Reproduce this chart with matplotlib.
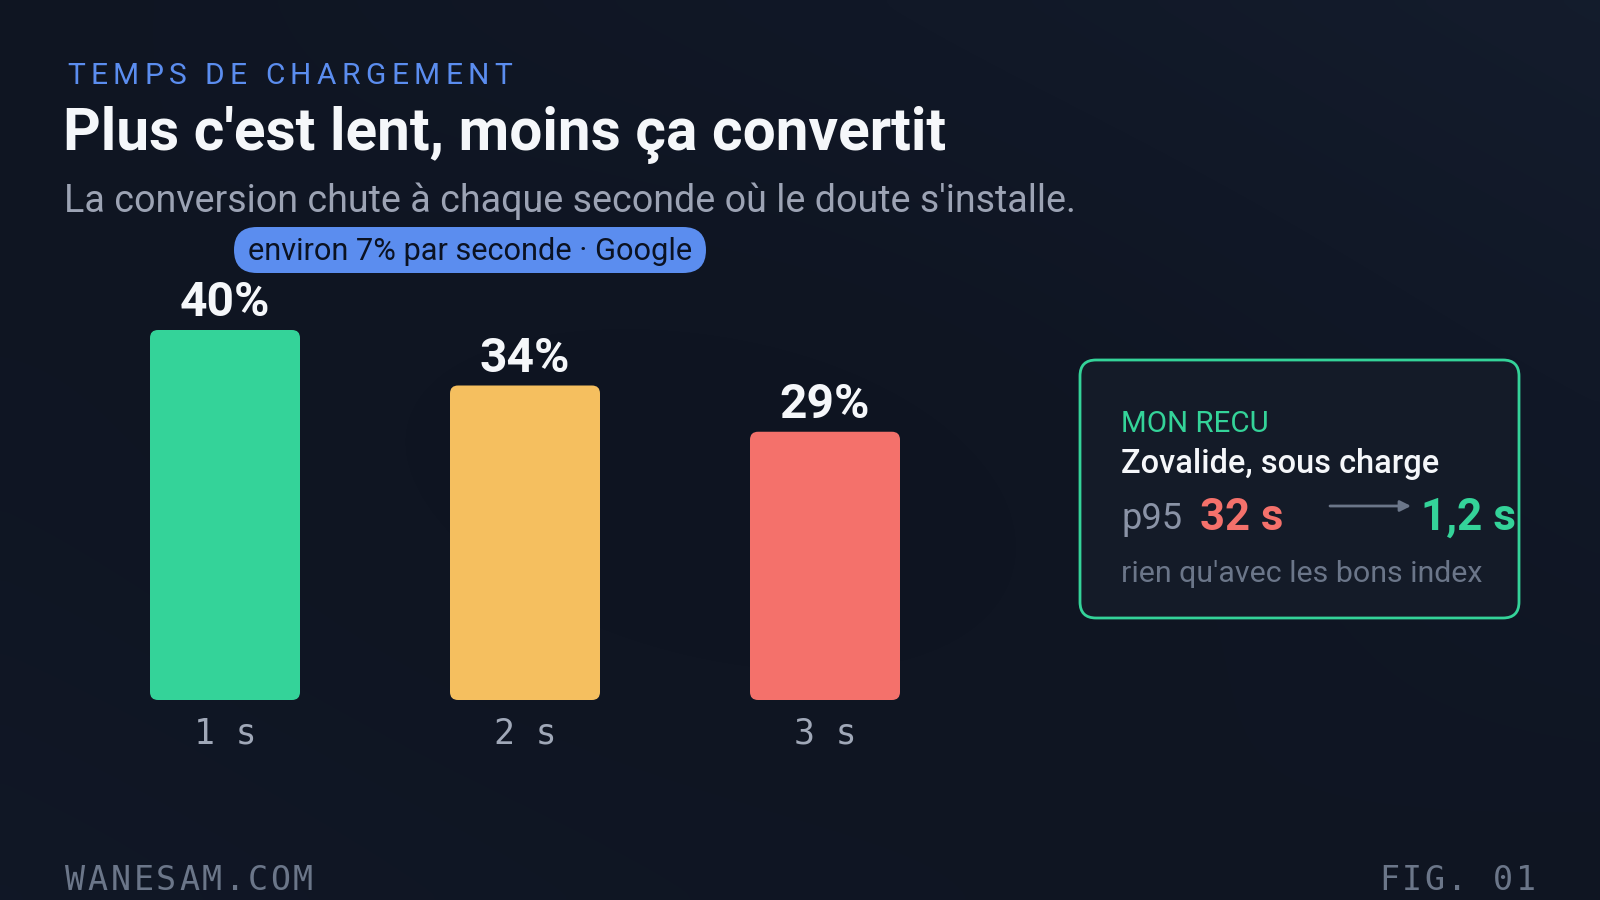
import numpy as np
import matplotlib
matplotlib.use("Agg")
import matplotlib.pyplot as plt
from matplotlib.patches import FancyBboxPatch, FancyArrowPatch
from matplotlib.colors import LinearSegmentedColormap

# ---------------- data ----------------
categories = ["1 s", "2 s", "3 s"]
conversion = [40, 34, 29]
value_labels = ["40%", "34%", "29%"]
bar_colors = ["#34d399", "#f5bf5f", "#f4716b"]

kicker = "TEMPS DE CHARGEMENT"
title = "Plus c'est lent, moins ça convertit"
subtitle = "La conversion chute à chaque seconde où le doute s'installe."
pill_text = "environ 7% par seconde · Google"
card_kicker = "MON RECU"
card_title = "Zovalide, sous charge"
card_metric = "p95"
card_before = "32 s"
card_after = "1,2 s"
card_note = "rien qu'avec les bons index"
footer_left = "WANESAM.COM"
footer_right = "FIG. 01"

SANS = "Roboto"
MONO = "DejaVu Sans Mono"
BG = "#0f1522"

W, H = 1600, 900
fig = plt.figure(figsize=(16, 9), dpi=100, facecolor=BG)

# background gradient
bg = fig.add_axes([0, 0, 1, 1], zorder=-10)
yy, xx = np.mgrid[0:1:90j, 0:1:160j]
g = 0.55 * xx * (1 - yy) + 0.35 * (1 - xx) * yy * 0.6 + 0.25 * np.exp(-((xx - 0.5) ** 2 + (yy - 0.5) ** 2) * 6) * -1
cmap = LinearSegmentedColormap.from_list("bg", ["#0d121d", "#111827", "#162031"])
bg.imshow(g, cmap=cmap, aspect="auto", extent=[0, 1, 0, 1], interpolation="bicubic", vmin=-0.3, vmax=0.8)
bg.axis("off")

# overlay axes in pixel coordinates (y downward)
ov = fig.add_axes([0, 0, 1, 1], zorder=5)
ov.set_xlim(0, W)
ov.set_ylim(H, 0)
ov.axis("off")
ov.patch.set_alpha(0)

renderer = fig.canvas.get_renderer()


def width_of(s, fs, family, weight="normal"):
    t = ov.text(0, 0, s, fontsize=fs, family=family, weight=weight)
    w = t.get_window_extent(renderer).width
    t.remove()
    return w


def fit(s, target, family, weight="normal", fs0=20):
    return fs0 * target / width_of(s, fs0, family, weight)


def tracked(x, y, s, fs, target, family, weight="normal", color="white"):
    ref = width_of("|", fs, family, weight)
    def adv(p):
        return width_of(p + "|", fs, family, weight) - ref if p else 0.0
    n = len(s)
    base = adv(s[:-1]) + width_of(s[-1], fs, family, weight)
    tr = (target - base) / (n - 1)
    for i, c in enumerate(s):
        if c == " ":
            continue
        ov.text(x + adv(s[:i]) + i * tr, y, c, fontsize=fs, family=family,
                weight=weight, color=color, va="baseline", ha="left")


# ---------------- header ----------------
tracked(67, 84.5, kicker, 21.5, 445, SANS, color="#5b8def")
ov.text(63, 150, title, fontsize=fit(title, 881, SANS, "bold"), family=SANS,
        weight="bold", color="#f5f7fa", va="baseline")
ov.text(64, 212.5, subtitle, fontsize=fit(subtitle, 1010, SANS), family=SANS,
        color="#9ca3b4", va="baseline")

# pill
ov.add_patch(FancyBboxPatch((234, 227), 472, 46,
                            boxstyle="round,pad=0,rounding_size=23",
                            fc="#5b8def", ec="none", zorder=2))
ov.text(248, 259.5, pill_text, fontsize=fit(pill_text, 443, SANS), family=SANS,
        color="#0b1222", va="baseline", zorder=3)

# ---------------- bars ----------------
px_per_unit = 9.25
ylim_top = 50
ax = fig.add_axes([75 / W, 200 / H, 900 / W, ylim_top * px_per_unit / H], zorder=3)
ax.set_xlim(-0.5, 2.5)
ax.set_ylim(0, ylim_top)
ax.axis("off")
ax.patch.set_alpha(0)

xpos = np.arange(len(categories))
bars = ax.bar(xpos, conversion, width=0.5, color=bar_colors)
x_unit_px = 300.0
r_px = 8
for b, c in zip(bars, bar_colors):
    x0, y0, bw, bh = b.get_x(), b.get_y(), b.get_width(), b.get_height()
    b.remove()
    ax.add_patch(FancyBboxPatch((x0, y0), bw, bh,
                                boxstyle=f"round,pad=0,rounding_size={r_px / x_unit_px}",
                                mutation_aspect=x_unit_px / px_per_unit,
                                fc=c, ec="none"))

lab_fs = fit("40%", 90, SANS, "bold")
for x, v, lab in zip(xpos, conversion, value_labels):
    ax.annotate(lab, (x, v), xytext=(0, 14 * 0.72), textcoords="offset points",
                ha="center", va="baseline", fontsize=lab_fs, family=SANS,
                weight="bold", color="#f5f7fa")
for x, cat in zip(xpos, categories):
    ax.annotate(cat, (x, 0), xytext=(0, -44 * 0.72), textcoords="offset points",
                ha="center", va="baseline", fontsize=25, family=MONO,
                color="#a0a8b8")

# ---------------- card ----------------
ov.add_patch(FancyBboxPatch((1080, 360), 439, 258,
                            boxstyle="round,pad=0,rounding_size=16",
                            fc="#141b28", ec="#34d399", lw=2, zorder=2))
ov.text(1121, 431.5, card_kicker, fontsize=fit(card_kicker, 148, SANS), family=SANS,
        color="#34d399", va="baseline", zorder=3)
ov.text(1121, 472.5, card_title, fontsize=fit(card_title, 318, SANS, "medium"),
        family=SANS, weight="medium", color="#f5f7fa", va="baseline", zorder=3)
ov.text(1121, 529, card_metric, fontsize=fit(card_metric, 61, SANS), family=SANS,
        color="#8a93a6", va="baseline", zorder=3)
ov.text(1200, 530, card_before, fontsize=fit(card_before, 83, SANS, "bold"),
        family=SANS, weight="bold", color="#f4716b", va="baseline", zorder=3)
ov.text(1421, 530, card_after, fontsize=fit(card_after, 95, SANS, "bold"),
        family=SANS, weight="bold", color="#34d399", va="baseline", zorder=3)
ov.add_patch(FancyArrowPatch((1330, 506), (1411, 506), arrowstyle="-|>",
                             mutation_scale=16, color="#6b7689", lw=2, zorder=3,
                             shrinkA=0, shrinkB=0))
ov.text(1121, 581.5, card_note, fontsize=fit(card_note, 360, SANS), family=SANS,
        color="#6b7689", va="baseline", zorder=3)

# ---------------- footer ----------------
tracked(65, 890.5, footer_left, 24, 248, MONO, color="#6b7689")
tracked(1379, 890.5, footer_right, 24, 157, MONO, color="#6b7689")

fig.savefig("out.png", dpi=100, facecolor=BG)
